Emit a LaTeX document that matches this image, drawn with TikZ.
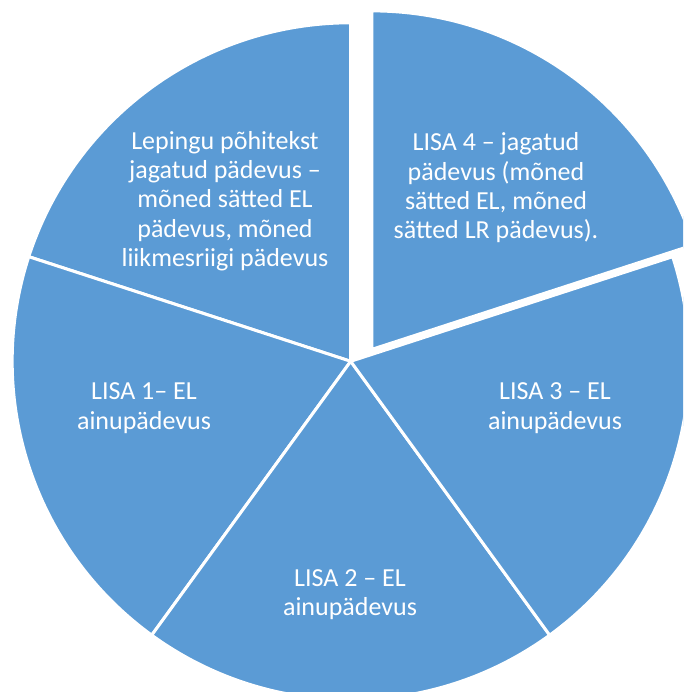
\documentclass[tikz,border=0pt]{standalone}
\usepackage{fontspec}
\setmainfont{Carlito}
\definecolor{pieblue}{HTML}{5B9BD5}

\begin{document}
\begin{tikzpicture}[x=0.75pt,y=0.75pt,
  slice/.style={fill=pieblue, draw=white, line width=2.25pt, line join=miter},
  pielabel/.style={text=white, align=center, inner sep=0pt,
    font=\fontsize{19.5}{22}\selectfont}]
\useasboundingbox (0,0) rectangle (683,692);
\clip (0,0) rectangle (683,692);
\coordinate (ctr) at (350.7,330.7);
\coordinate (ctrx) at (371.8,342.6);
% four slices around the centre
\draw[slice] (ctr) -- ++(90:338.5) arc[start angle=90, end angle=162, radius=338.5] -- cycle;
\draw[slice] (ctr) -- ++(162:338.5) arc[start angle=162, end angle=234, radius=338.5] -- cycle;
\draw[slice] (ctr) -- ++(234:338.5) arc[start angle=234, end angle=306, radius=338.5] -- cycle;
\draw[slice] (ctr) -- ++(306:338.5) arc[start angle=306, end angle=378, radius=338.5] -- cycle;
% pulled out slice
\draw[slice] (ctrx) -- ++(18:338.5) arc[start angle=18, end angle=90, radius=338.5] -- cycle;
\node[pielabel] (lepingu) at (225,491) {Lepingu põhitekst\\jagatud pädevus –\\mõned sätted EL\\pädevus, mõned\\liikmesriigi pädevus};
\node[pielabel] (lisa4) at (496,504) {LISA 4 – jagatud\\pädevus (mõned\\sätted EL, mõned\\sätted LR pädevus).};
\node[pielabel] (lisa3) at (555,284) {LISA 3 – EL\\ainupädevus};
\node[pielabel] (lisa1) at (144,284) {LISA 1– EL\\ainupädevus};
\node[pielabel] (lisa2) at (350,97.5) {LISA 2 – EL\\ainupädevus};
\end{tikzpicture}
\end{document}
